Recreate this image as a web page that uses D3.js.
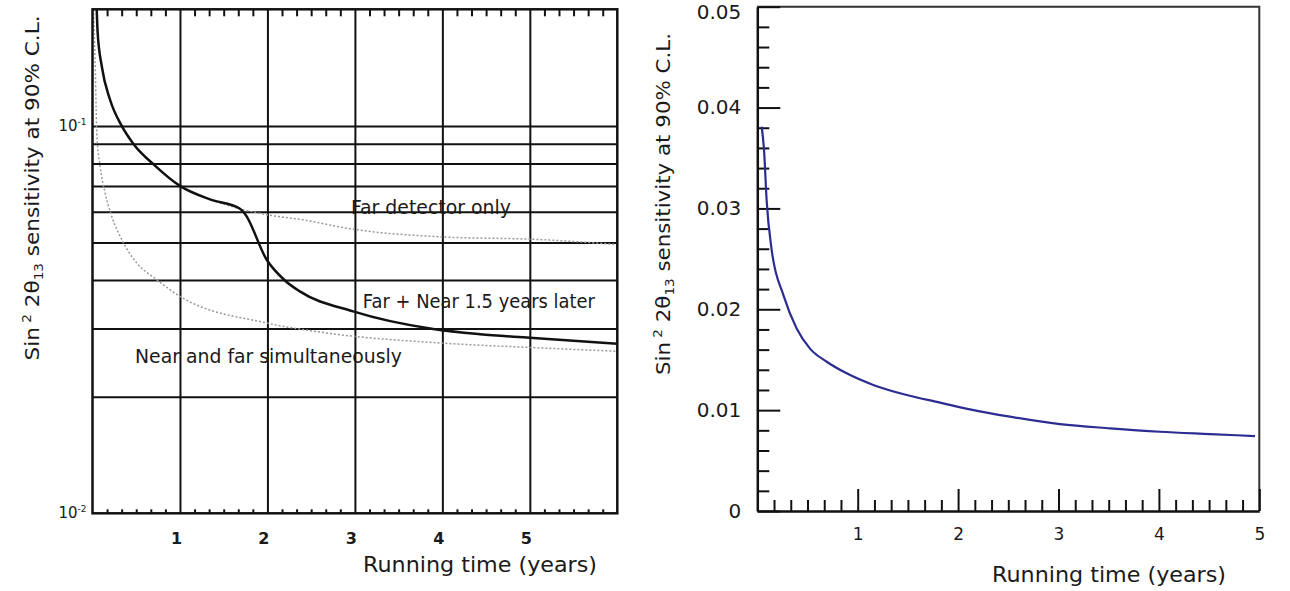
<!DOCTYPE html>
<html>
<head>
<meta charset="utf-8">
<script src="https://cdn.jsdelivr.net/npm/d3@7"></script>
<style>
  body { margin: 0; background: #fff; }
  svg text { font-family: "DejaVu Sans", sans-serif; fill: #1a1a1a; }
</style>
</head>
<body>
<script>
// left panel: log scale, three scenarios
const farNearT = [0.048, 0.059, 0.105, 0.2, 0.334, 0.466, 0.714, 1.0, 1.343, 1.686, 1.74, 1.99, 2.2, 2.37, 2.98, 3.895, 4.43, 5.0, 6.0];
const farNearV = [0.2, 0.174, 0.143, 0.117, 0.1, 0.09, 0.079, 0.070, 0.0646, 0.0611, 0.0594, 0.0452, 0.0399, 0.0374, 0.0332, 0.0299, 0.0290, 0.0284, 0.0274];

const farOnlyT = [0.048, 0.059, 0.105, 0.2, 0.334, 0.466, 0.714, 1.0, 1.343, 1.686, 2.03, 2.37, 2.98, 4.0, 5.11, 6.0];
const farOnlyV = [0.2, 0.174, 0.143, 0.117, 0.1, 0.09, 0.079, 0.070, 0.0646, 0.0611, 0.0588, 0.0574, 0.0541, 0.0517, 0.0509, 0.0494];

const nearFarT = [0.011, 0.029, 0.042, 0.048, 0.086, 0.143, 0.219, 0.334, 0.505, 0.734, 1.0, 1.99, 2.68, 4.0, 5.0, 6.0];
const nearFarV = [0.2, 0.149, 0.110, 0.096, 0.0788, 0.0673, 0.0585, 0.0509, 0.0443, 0.0401, 0.0363, 0.0310, 0.0292, 0.0275, 0.0268, 0.0262];

const xGridL = [1, 2, 3, 4, 5];
const yGridL = [0.02, 0.03, 0.04, 0.05, 0.06, 0.07, 0.08, 0.09, 0.1];
const yLabelsL = [{v: 0.1, exp: "-1"}, {v: 0.01, exp: "-2"}];

// right panel: linear scale, single curve
const rightT = [0.044, 0.067, 0.093, 0.143, 0.26, 0.392, 0.525, 0.691, 0.890, 1.155, 1.488, 1.82, 2.118, 2.517, 3.015, 3.513, 4.01, 4.51, 4.957];
const rightV = [0.0381, 0.0358, 0.0308, 0.0259, 0.0214, 0.0181, 0.0161, 0.0148, 0.01365, 0.0125, 0.0115, 0.01075, 0.01008, 0.00935, 0.00862, 0.0082, 0.00786, 0.00763, 0.00743];

const xTicksR = [1, 2, 3, 4, 5];
const yTicksR = [0, 0.01, 0.02, 0.03, 0.04, 0.05];

const w = 1290;
const h = 591;

const svg = d3.select("body")
    .append("svg")
    .attr("width", w)
    .attr("height", h);

// ---------- left panel ----------
const L = {x0: 92.5, x1: 617.3, y0: 9.3, y1: 513.3};
const xL = d3.scaleLinear().domain([0, 6]).range([L.x0, L.x1]);
const yL = d3.scaleLog().domain([0.01, 0.2]).range([L.y1, L.y0]);

// minor ticks every 1/6 year
const minorL = [];
for (let i = 0; i < 6; i++) for (let j = 1; j < 6; j++) minorL.push(i + j / 6);

svg.append("g")
    .attr("transform", `translate(0,${L.y1})`)
    .call(d3.axisBottom(xL).tickValues(xGridL).tickSize(-(L.y1 - L.y0)).tickSizeOuter(0).tickPadding(19)
        .tickFormat(d3.format("d")))
    .call(g => g.select(".domain").remove())
    .call(g => g.selectAll("line").attr("stroke", "#111").attr("stroke-width", 2))
    .call(g => g.selectAll("text").attr("font-size", 16).attr("dx", -4).attr("font-weight", 600));

svg.append("g")
    .attr("transform", `translate(${L.x0},0)`)
    .call(d3.axisLeft(yL).tickValues(yGridL).tickSize(-(L.x1 - L.x0)).tickFormat(""))
    .call(g => g.select(".domain").remove())
    .call(g => g.selectAll("line").attr("stroke", "#111").attr("stroke-width", 2));

svg.append("g")
    .attr("transform", `translate(0,${L.y0})`)
    .call(d3.axisTop(xL).tickValues(minorL).tickSize(-7).tickFormat(""))
    .call(g => g.select(".domain").remove())
    .call(g => g.selectAll("line").attr("stroke", "#111").attr("stroke-width", 2));

svg.append("g")
    .attr("transform", `translate(0,${L.y1})`)
    .call(d3.axisBottom(xL).tickValues(minorL).tickSize(-4).tickFormat(""))
    .call(g => g.select(".domain").remove())
    .call(g => g.selectAll("line").attr("stroke", "#111").attr("stroke-width", 2));

yLabelsL.forEach(d => {
    const t = svg.append("text")
        .attr("x", L.x0 - 6)
        .attr("y", yL(d.v) + 5)
        .attr("text-anchor", "end")
        .attr("font-size", 15);
    t.append("tspan").text("10");
    t.append("tspan").attr("dy", -6).attr("font-size", 9).text(d.exp);
});

const lineL = (ts, vs) => d3.line()
    .x(i => xL(ts[i]))
    .y(i => yL(vs[i]))
    .curve(d3.curveMonotoneX)(d3.range(ts.length));

svg.append("path")
    .attr("d", lineL(nearFarT, nearFarV))
    .attr("fill", "none")
    .attr("stroke", "#9a9a9a")
    .attr("stroke-width", 1.5)
    .attr("stroke-dasharray", "2,2");

svg.append("path")
    .attr("d", lineL(farOnlyT, farOnlyV))
    .attr("fill", "none")
    .attr("stroke", "#9a9a9a")
    .attr("stroke-width", 1.5)
    .attr("stroke-dasharray", "2,2");

svg.append("path")
    .attr("d", lineL(farNearT, farNearV))
    .attr("fill", "none")
    .attr("stroke", "#111")
    .attr("stroke-width", 2.5);

svg.append("rect")
    .attr("x", L.x0).attr("y", L.y0)
    .attr("width", L.x1 - L.x0).attr("height", L.y1 - L.y0)
    .attr("fill", "none")
    .attr("stroke", "#111")
    .attr("stroke-width", 2.5);

const note = (txt, t, v, len) => svg.append("text")
    .attr("x", xL(t)).attr("y", yL(v))
    .attr("font-size", 19)
    .attr("textLength", len)
    .attr("lengthAdjust", "spacingAndGlyphs")
    .text(txt);

note("Far detector only", 2.954, 0.0591, 160);
note("Far + Near 1.5 years later", 3.091, 0.03397, 232);
note("Near and far simultaneously", 0.486, 0.02447, 267);

// ---------- right panel ----------
const R = {x0: 757.3, x1: 1259.3, y0: 6.7, y1: 511};
const xR = d3.scaleLinear().domain([0, 5]).range([R.x0, R.x1]);
const yR = d3.scaleLinear().domain([0, 0.05]).range([R.y1, R.y0]);

const minorXR = [];
for (let i = 0; i < 5; i++) for (let j = 1; j < 6; j++) minorXR.push(i + j / 6);
const minorYR = [];
for (let i = 0; i < 5; i++) for (let j = 1; j < 5; j++) minorYR.push((i * 5 + j) * 0.002);

svg.append("path")
    .attr("d", `M${R.x0},${R.y0}H${R.x1}V${R.y1}`)
    .attr("fill", "none")
    .attr("stroke", "#333")
    .attr("stroke-width", 2);

svg.append("g")
    .attr("transform", `translate(${R.x0},0)`)
    .call(d3.axisLeft(yR).tickValues(minorYR).tickSize(-12).tickFormat(""))
    .call(g => g.select(".domain").remove())
    .call(g => g.selectAll("line").attr("stroke", "#111").attr("stroke-width", 2));

svg.append("g")
    .attr("transform", `translate(${R.x0},0)`)
    .call(d3.axisLeft(yR).tickValues(yTicksR).tickSize(-23).tickSizeOuter(0).tickPadding(16)
        .tickFormat(d => d === 0 ? "0" : d3.format(".2f")(d)))
    .call(g => g.select(".domain").attr("stroke", "#111").attr("stroke-width", 2.5))
    .call(g => g.selectAll("line").attr("stroke", "#111").attr("stroke-width", 2))
    .call(g => g.selectAll("text").attr("font-size", 20))
    .call(g => g.selectAll("text").filter(d => d === 0.05).attr("dy", "0.58em"));

svg.append("g")
    .attr("transform", `translate(0,${R.y1})`)
    .call(d3.axisBottom(xR).tickValues(minorXR).tickSize(-11).tickFormat(""))
    .call(g => g.select(".domain").remove())
    .call(g => g.selectAll("line").attr("stroke", "#111").attr("stroke-width", 2));

svg.append("g")
    .attr("transform", `translate(0,${R.y1})`)
    .call(d3.axisBottom(xR).tickValues(xTicksR).tickSize(-22).tickSizeOuter(0).tickPadding(17)
        .tickFormat(d3.format("d")))
    .call(g => g.select(".domain").attr("stroke", "#111").attr("stroke-width", 2.5))
    .call(g => g.selectAll("line").attr("stroke", "#111").attr("stroke-width", 2))
    .call(g => g.selectAll("text").attr("font-size", 17));

svg.append("path")
    .attr("d", d3.line()
        .x(i => xR(rightT[i]))
        .y(i => yR(rightV[i]))
        .curve(d3.curveMonotoneX)(d3.range(rightT.length)))
    .attr("fill", "none")
    .attr("stroke", "#2c2c92")
    .attr("stroke-width", 2.2);

// ---------- axis titles ----------
const xTitle = (cx, y) => svg.append("text")
    .attr("x", cx).attr("y", y)
    .attr("text-anchor", "middle")
    .attr("font-size", 21)
    .attr("textLength", 234)
    .attr("lengthAdjust", "spacingAndGlyphs")
    .text("Running time (years)");

xTitle(480, 572);
xTitle(1109, 582);

const yTitle = (cx, cy, len) => {
    const t = svg.append("text")
        .attr("transform", `translate(${cx},${cy}) rotate(-90)`)
        .attr("text-anchor", "middle")
        .attr("font-size", 19)
        .attr("textLength", len)
        .attr("lengthAdjust", "spacingAndGlyphs");
    t.append("tspan").text("Sin");
    t.append("tspan").attr("dy", -8).attr("font-size", 12).text(" 2");
    t.append("tspan").attr("dy", 8).text(" 2θ");
    t.append("tspan").attr("dy", 4).attr("font-size", 12).text("13");
    t.append("tspan").attr("dy", -4).text(" sensitivity at 90% C.L.");
};

yTitle(39, 188, 345);
yTitle(670, 204, 342);
</script>
</body>
</html>
